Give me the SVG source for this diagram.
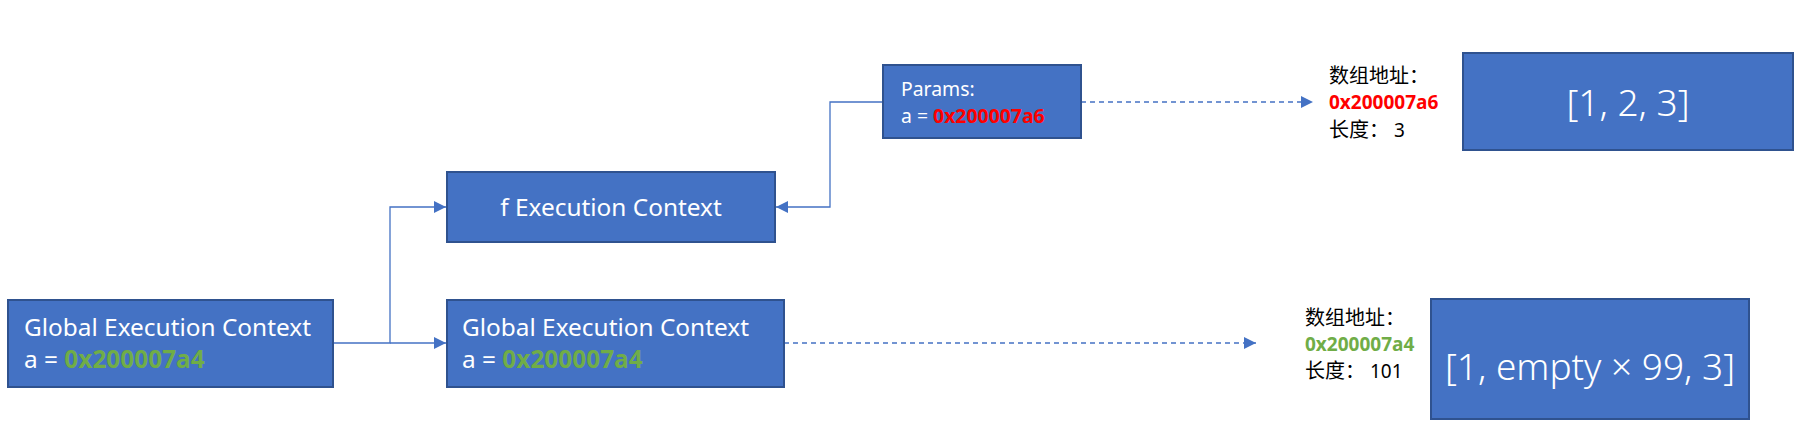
<svg xmlns="http://www.w3.org/2000/svg" width="1805" height="429" viewBox="0 0 1805 429">
<defs>
<style>
.box{fill:#4472C4;stroke:#2F528F;stroke-width:2}
.t{font-family:"Noto Sans","Noto Sans CJK SC",sans-serif;fill:#fff}
.m{font-size:24.4px}
.s{font-size:19.4px}
.k{font-family:"Noto Sans","Noto Sans CJK SC",sans-serif;font-size:19px;fill:#000}
.cj{font-size:20px}
.g,.k.g{fill:#70AD47;font-weight:bold}
.r,.k.r{fill:#FF0000;font-weight:bold}
.big{font-size:37px;font-weight:300}
.ln{fill:none;stroke:#4472C4;stroke-width:1.3}
.dash{stroke-dasharray:5 4}
</style>
<marker id="ah" viewBox="0 0 10 10" refX="10" refY="5" markerWidth="12" markerHeight="12" markerUnits="userSpaceOnUse" orient="auto">
<path d="M0,0 L10,5 L0,10 z" fill="#4472C4"/>
</marker>
</defs>
<g id="connectors">
<path class="ln" d="M333,343 H390 V207 H446" marker-end="url(#ah)"/>
<path class="ln" d="M390,343 H446" marker-end="url(#ah)"/>
<path class="ln" d="M883,102 H830 V207 H776" marker-end="url(#ah)"/>
<path class="ln dash" d="M1081,102 H1313" marker-end="url(#ah)"/>
<path class="ln dash" d="M784,343 H1256" marker-end="url(#ah)"/>
</g>
<g id="global1">
<rect class="box" x="8" y="300" width="325" height="87"/>
<text class="t m" x="24" y="336">Global Execution Context</text>
<text class="t m" x="24" y="368">a = <tspan class="g">0x200007a4</tspan></text>
</g>
<g id="global2">
<rect class="box" x="447" y="300" width="337" height="87"/>
<text class="t m" x="462" y="336">Global Execution Context</text>
<text class="t m" x="462" y="368">a = <tspan class="g">0x200007a4</tspan></text>
</g>
<g id="fctx">
<rect class="box" x="447" y="172" width="328" height="70"/>
<text class="t m" x="611" y="216" text-anchor="middle">f Execution Context</text>
</g>
<g id="params">
<rect class="box" x="883" y="65" width="198" height="73"/>
<text class="t s" x="901" y="96">Params:</text>
<text class="t s" x="901" y="123">a = <tspan class="r">0x200007a6</tspan></text>
</g>
<g id="label1">
<text class="k cj" x="1329" y="83">数组地址：</text>
<text class="k r" x="1329" y="109">0x200007a6</text>
<text class="k" x="1329" y="137"><tspan class="cj">长度：</tspan> 3</text>
</g>
<g id="arr1">
<rect class="box" x="1463" y="53" width="330" height="97"/>
<text class="t big" x="1628" y="116" text-anchor="middle">[1, 2, 3]</text>
</g>
<g id="label2">
<text class="k cj" x="1305" y="325">数组地址：</text>
<text class="k g" x="1305" y="351">0x200007a4</text>
<text class="k" x="1305" y="378"><tspan class="cj">长度：</tspan> 101</text>
</g>
<g id="arr2">
<rect class="box" x="1431" y="299" width="318" height="120"/>
<text class="t big" x="1590" y="380" text-anchor="middle">[1, empty × 99, 3]</text>
</g>
</svg>
